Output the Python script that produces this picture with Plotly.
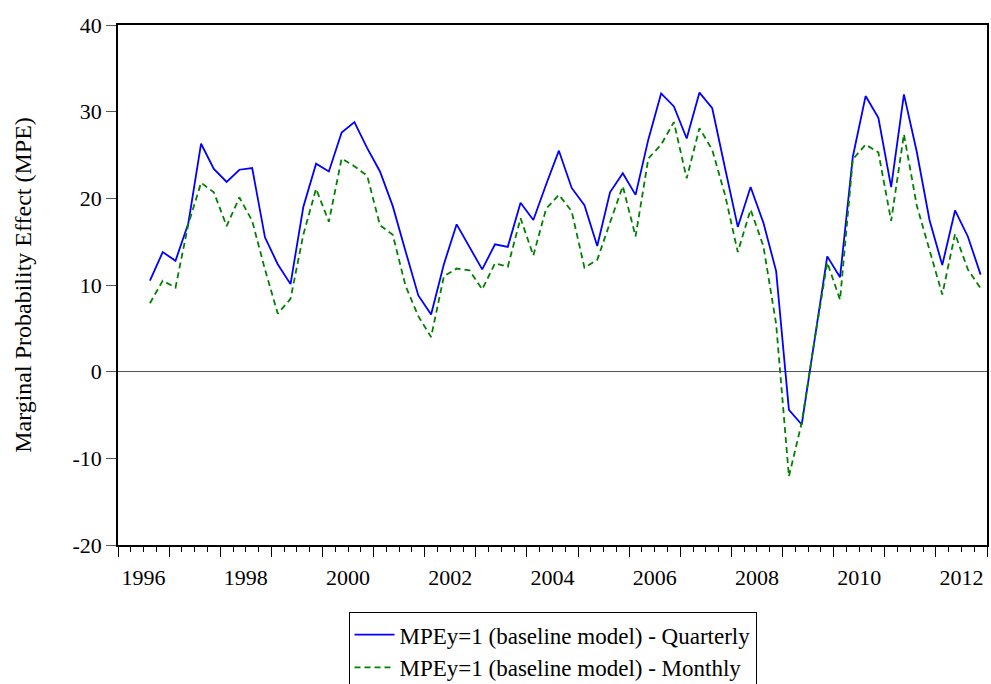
import plotly.graph_objects as go

# Quarterly periods, 1996Q3 .. 2012Q4
start_year, start_q = 1996, 3
n_periods = 66
periods = []
y, q = start_year, start_q
for _ in range(n_periods):
    periods.append((y, q))
    q += 1
    if q > 4:
        q = 1
        y += 1
# position each observation at the middle of its quarter
x_pos = [yr + (qq - 1) / 4 + 0.125 for yr, qq in periods]

mpe_quarterly = [
    10.5, 13.8, 12.8, 17.1,            # 1996Q3-1997Q2
    26.3, 23.4, 21.9, 23.3,            # 1997Q3-1998Q2
    23.5, 15.5, 12.4, 10.1,            # 1998Q3-1999Q2
    19.0, 24.0, 23.1, 27.6,            # 1999Q3-2000Q2
    28.8, 25.8, 23.1, 19.1,            # 2000Q3-2001Q2
    13.9, 8.8, 6.6, 12.4,              # 2001Q3-2002Q2
    17.0, 14.4, 11.8, 14.7,            # 2002Q3-2003Q2
    14.4, 19.5, 17.5, 21.6,            # 2003Q3-2004Q2
    25.5, 21.2, 19.2, 14.5,            # 2004Q3-2005Q2
    20.7, 22.9, 20.4, 26.8,            # 2005Q3-2006Q2
    32.1, 30.6, 26.9, 32.2,            # 2006Q3-2007Q2
    30.4, 23.5, 16.7, 21.3,            # 2007Q3-2008Q2
    17.2, 11.6, -4.4, -6.1,            # 2008Q3-2009Q2
    3.4, 13.3, 10.9, 24.8,             # 2009Q3-2010Q2
    31.8, 29.3, 21.3, 32.0,            # 2010Q3-2011Q2
    25.4, 17.5, 12.3, 18.6,            # 2011Q3-2012Q2
    15.6, 11.2,                        # 2012Q3-2012Q4
]

mpe_monthly = [
    7.9, 10.5, 9.7, 17.0,
    21.8, 20.7, 16.8, 20.1,
    17.4, 11.8, 6.7, 8.4,
    15.8, 21.1, 17.3, 24.6,
    23.7, 22.6, 16.9, 15.8,
    9.9, 6.4, 4.0, 11.0,
    11.9, 11.7, 9.5, 12.5,
    12.1, 17.7, 13.4, 18.8,
    20.4, 18.5, 12.0, 12.9,
    17.2, 21.4, 15.6, 24.6,
    26.2, 28.8, 22.3, 28.1,
    25.6, 20.4, 13.8, 18.7,
    14.5, 5.5, -12.1, -5.9,
    3.6, 12.6, 8.3, 24.5,
    26.2, 25.3, 17.4, 27.4,
    19.2, 14.1, 8.9, 15.9,
    11.8, 9.6,
]

series_names = [
    "MPEy=1 (baseline model) - Quarterly",
    "MPEy=1 (baseline model) - Monthly",
]

year_ticks = list(range(1996, 2014))
label_years = list(range(1996, 2013, 2))
y_ticks = [-20, -10, 0, 10, 20, 30, 40]
y_tick_text = [str(v) for v in y_ticks]

FONT = "Liberation Serif"
TICK_SIZE = 22
TEXT_SIZE = 24
LEGEND_SIZE = 23
x_range = [1996, 2013]

fig = go.Figure()
fig.add_trace(go.Scatter(
    x=x_pos, y=mpe_quarterly, mode="lines", name=series_names[0],
    line=dict(color="#0000ff", width=1.8),
))
fig.add_trace(go.Scatter(
    x=x_pos, y=mpe_monthly, mode="lines", name=series_names[1],
    line=dict(color="#008000", width=1.8, dash="6px,4px"),
))
# empty trace so the label axis is drawn
fig.add_trace(go.Scatter(x=[], y=[], xaxis="x2", showlegend=False, hoverinfo="skip"))

fig.update_layout(
    width=991, height=684,
    margin=dict(l=118, r=4, t=25, b=139, autoexpand=False),
    paper_bgcolor="white", plot_bgcolor="white",
    font=dict(family=FONT, size=TEXT_SIZE, color="black"),
    showlegend=True,
    legend=dict(
        x=0.5, xanchor="center", y=-0.129, yanchor="top",
        bordercolor="black", borderwidth=1,
        font=dict(family=FONT, size=LEGEND_SIZE),
        tracegroupgap=0, itemwidth=40,
    ),
    xaxis=dict(
        range=x_range, tickmode="array", tickvals=year_ticks,
        ticktext=["" for _ in year_ticks],
        ticks="outside", ticklen=10, tickwidth=1, tickcolor="black",
        minor=dict(dtick=0.25, tick0=1996, ticks="outside", ticklen=5,
                   tickwidth=1, tickcolor="black", showgrid=False),
        showline=True, linecolor="black", linewidth=1.5, mirror=True,
        showgrid=False, zeroline=False,
    ),
    xaxis2=dict(
        overlaying="x", anchor="y", side="bottom", range=x_range,
        tickmode="array", tickvals=[yr + 0.5 for yr in label_years],
        ticktext=[str(yr) for yr in label_years],
        ticks="outside", ticklen=13, tickcolor="rgba(0,0,0,0)",
        showline=False, showgrid=False, zeroline=False,
        tickfont=dict(family=FONT, size=TICK_SIZE),
    ),
    yaxis=dict(
        range=[-20, 40], tickmode="array", tickvals=y_ticks, ticktext=y_tick_text,
        ticks="outside", ticklen=10, tickwidth=1, tickcolor="#555555",
        showline=True, linecolor="black", linewidth=1.5, mirror=True,
        showgrid=False,
        zeroline=True, zerolinecolor="#555555", zerolinewidth=1,
        tickfont=dict(family=FONT, size=TICK_SIZE),
        title=dict(text="Marginal Probability Effect (MPE)",
                   font=dict(family=FONT, size=TEXT_SIZE), standoff=34),
    ),
)

fig.write_html("out.html")
